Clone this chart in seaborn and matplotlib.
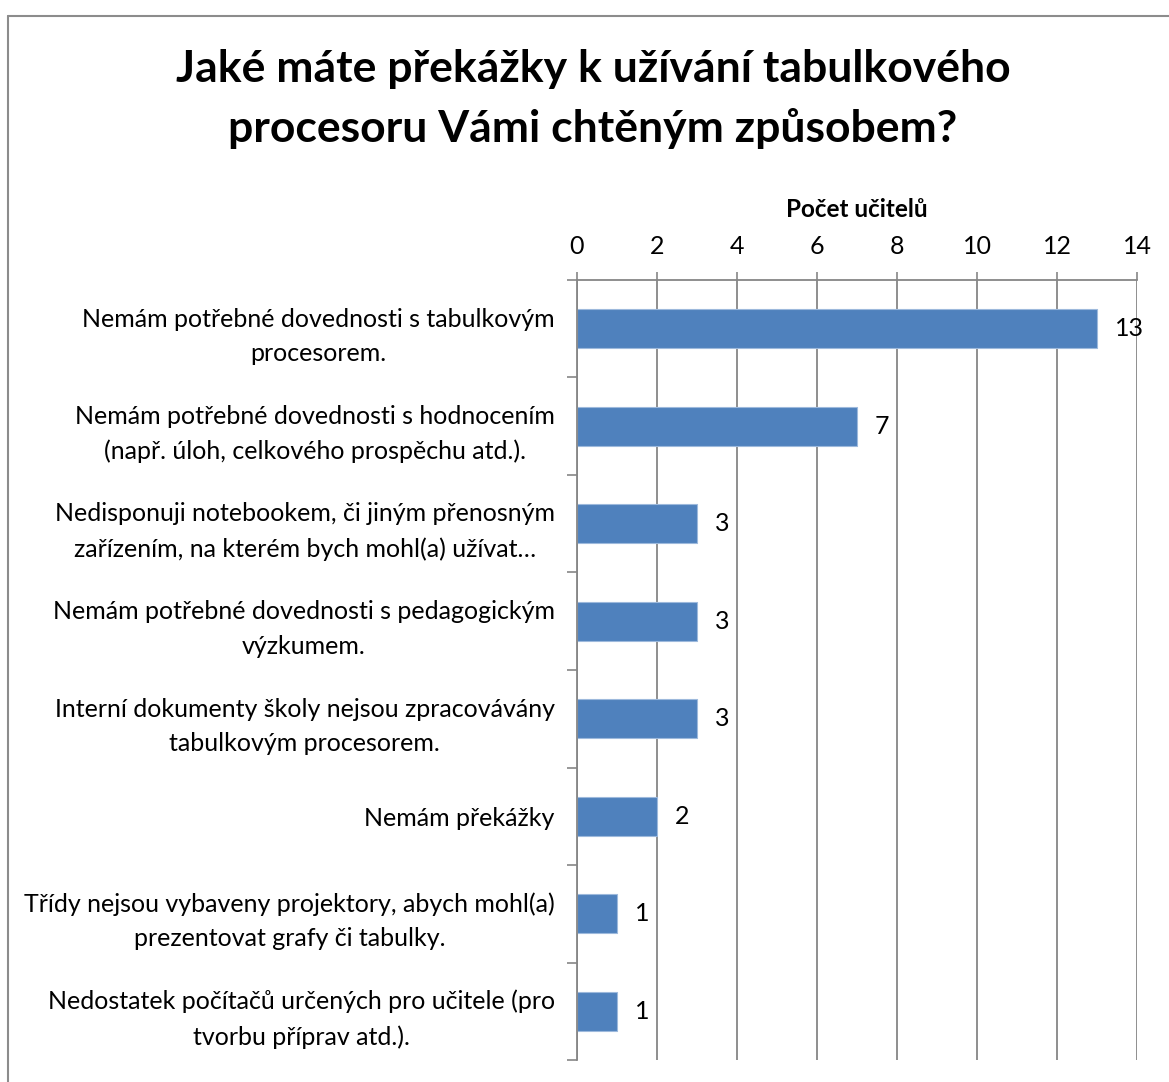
import matplotlib
matplotlib.use("Agg")
import matplotlib.pyplot as plt
import seaborn as sns
import pandas as pd
from matplotlib.lines import Line2D

categories = [
    "Nemám potřebné dovednosti s tabulkovým\nprocesorem.",
    "Nemám potřebné dovednosti s hodnocením\n(např. úloh, celkového prospěchu atd.).",
    "Nedisponuji notebookem, či jiným přenosným\nzařízením, na kterém bych mohl(a) užívat…",
    "Nemám potřebné dovednosti s pedagogickým\nvýzkumem.",
    "Interní dokumenty školy nejsou zpracovávány\ntabulkovým procesorem.",
    "Nemám překážky",
    "Třídy nejsou vybaveny projektory, abych mohl(a)\nprezentovat grafy či tabulky.",
    "Nedostatek počítačů určených pro učitele (pro\ntvorbu příprav atd.).",
]
counts = [13, 7, 3, 3, 3, 2, 1, 1]
x_ticks = [0, 2, 4, 6, 8, 10, 12, 14]

title = "Jaké máte překážky k užívání tabulkového\nprocesoru Vámi chtěným způsobem?"
x_label = "Počet učitelů"

df = pd.DataFrame({"kategorie": categories, "pocet": counts})

sns.set_theme(style="white")
plt.rcParams["font.family"] = ["Lato", "DejaVu Sans"]
plt.rcParams["text.color"] = "black"
plt.rcParams["axes.labelcolor"] = "black"
plt.rcParams["xtick.labelcolor"] = "black"
plt.rcParams["ytick.labelcolor"] = "black"

W, H = 1169, 1082
fig = plt.figure(figsize=(W / 100, H / 100), dpi=100)
ax = fig.add_axes([577 / W, 1 - 1060 / H, (1137 - 577) / W, (1060 - 280) / H])

sns.barplot(data=df, y="kategorie", x="pocet", orient="h", color="#4F81BD",
            saturation=1, width=0.4, edgecolor="#9DB9DC", linewidth=0.8, ax=ax)

grid_c = "#868686"
ax.set_xlim(0, 14)
ax.set_ylim(len(categories) - 0.5, -0.5)
ax.set_xticks(x_ticks)
ax.xaxis.tick_top()
ax.xaxis.set_label_position("top")
ax.set_xlabel(x_label, fontsize=17.5, fontweight="bold", labelpad=13)
ax.set_ylabel("")
ax.tick_params(axis="x", labelsize=18, length=6, color=grid_c, width=1.2, pad=10)
ax.grid(axis="x", color=grid_c, linewidth=1.3)
ax.set_axisbelow(True)

# category boundaries as tick marks on the left axis
ax.set_yticks([i - 0.5 for i in range(len(categories) + 1)], minor=True)
ax.set_yticks(range(len(categories)))
ax.set_yticklabels(categories, fontsize=18, multialignment="center", linespacing=1.6)
ax.tick_params(axis="y", which="major", length=0, pad=16)
ax.tick_params(axis="y", which="minor", length=7, color=grid_c, width=1.2, left=True)

for side in ["right", "bottom"]:
    ax.spines[side].set_visible(False)
for side in ["left", "top"]:
    ax.spines[side].set_color(grid_c)
    ax.spines[side].set_linewidth(1.3)

for container in ax.containers:
    ax.bar_label(container, labels=[str(v) for v in counts], padding=13, fontsize=18)

fig.text(593 / W, 1 - 99 / H, title, ha="center", va="center", fontsize=32,
         fontweight="bold", linespacing=1.55, color="black")

# chart frame
frame_c = "#8C8C8C"
fig.add_artist(Line2D([7.5 / W, 7.5 / W], [0, 1 - 15.5 / H], color=frame_c, linewidth=1.5,
                      transform=fig.transFigure))
fig.add_artist(Line2D([7.5 / W, 1], [1 - 15.5 / H, 1 - 15.5 / H], color=frame_c, linewidth=1.5,
                      transform=fig.transFigure))

fig.savefig("out.png", dpi=100, facecolor="white")
